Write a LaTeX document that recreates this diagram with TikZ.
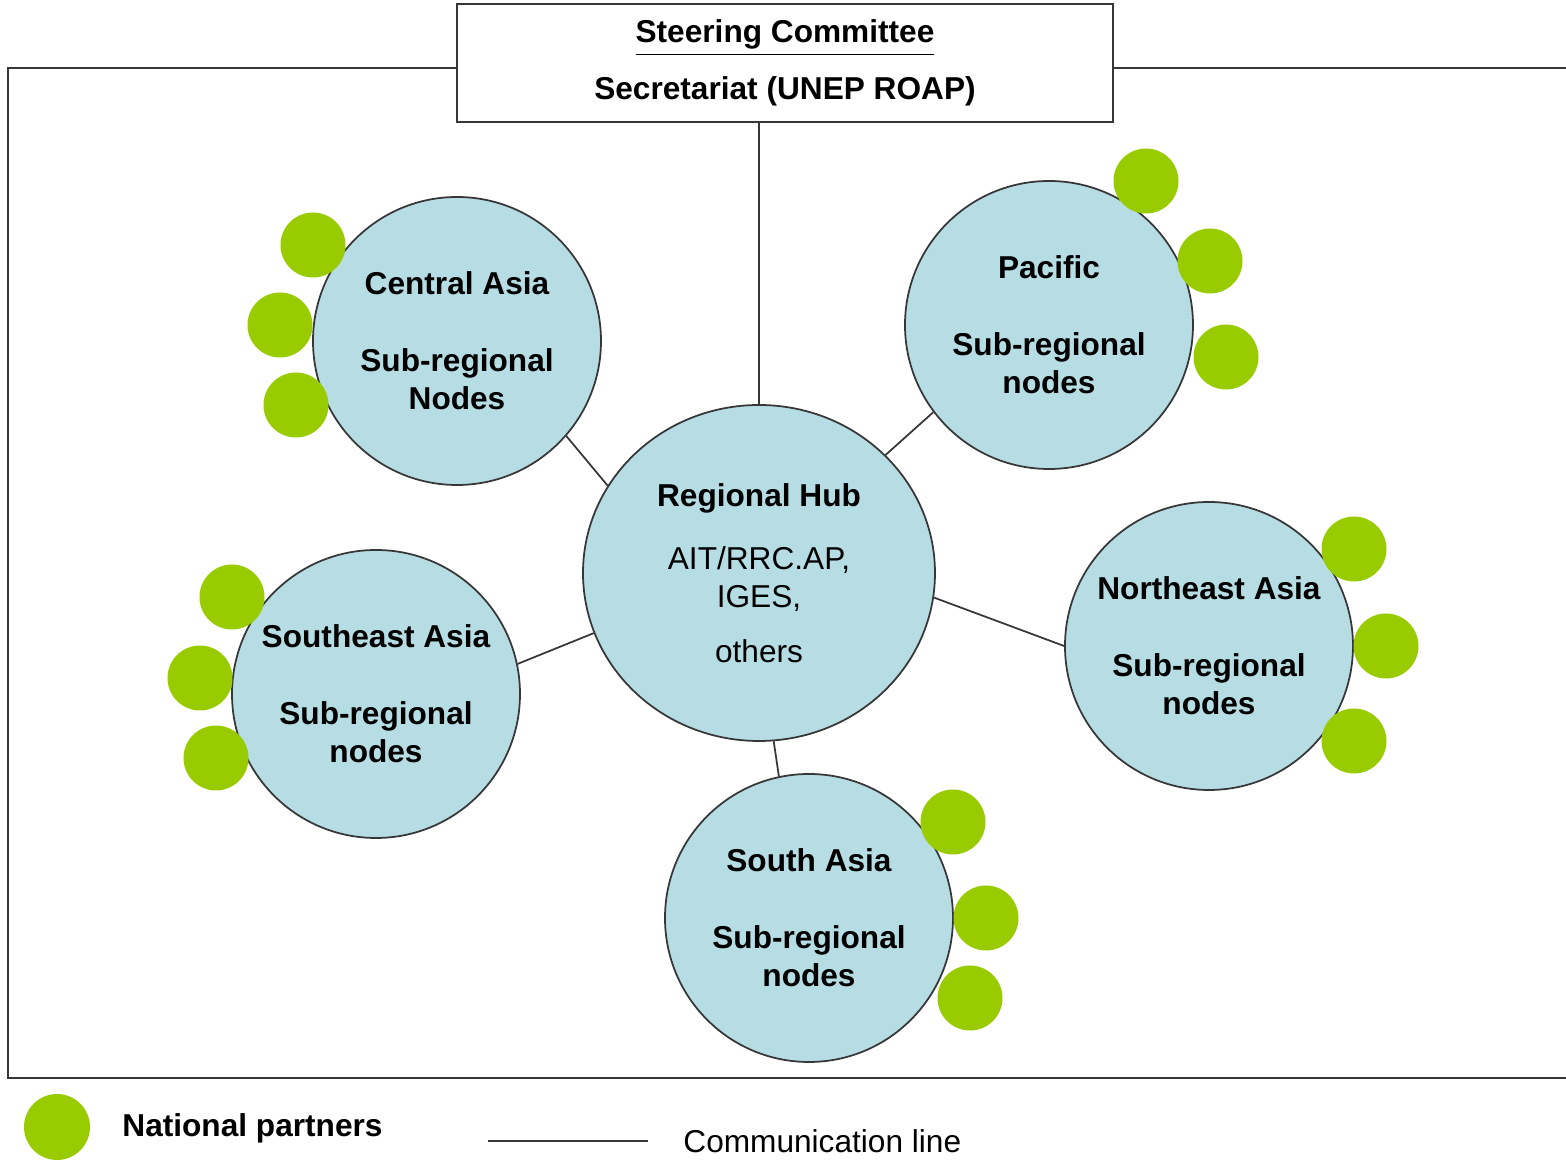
\documentclass[tikz,border=0pt]{standalone}
\usepackage{fontspec}
\setmainfont{Liberation Sans}
\usepackage{tikz}
\usetikzlibrary{positioning, shapes.geometric}

\definecolor{nodeblue}{RGB}{183,221,228}
\definecolor{partnergreen}{RGB}{153,204,0}
\definecolor{linegray}{RGB}{55,55,55}

\tikzset{
  subregion/.style={circle, draw=linegray, line width=0.5pt, fill=nodeblue, minimum size=2.88cm, inner sep=0pt, align=center, font=\bfseries\fontsize{9}{10.8}\selectfont},
  partner/.style={circle, fill=partnergreen, minimum size=0.65cm, inner sep=0pt},
  commline/.style={draw=linegray, line width=0.5pt},
}

\begin{document}
\begin{tikzpicture}
            \useasboundingbox (0,0) rectangle (15.66,11.6);
            \draw[linegray, line width=0.8pt] (15.66,10.92) -- (0.08,10.92) -- (0.08,0.82) -- (15.66,0.82);

            % steering committee
            \node[draw=linegray, line width=0.6pt, fill=white, minimum width=6.56cm, minimum height=1.18cm, align=center, font=\bfseries\fontsize{9}{10.8}\selectfont] (sc) at (7.85,10.97) {\underline{Steering Committee}\\[5.4pt]Secretariat (UNEP ROAP)};

            % hub and sub-regions
            \node[ellipse, draw=linegray, line width=0.5pt, fill=nodeblue, minimum width=3.52cm, minimum height=3.36cm, inner sep=0pt, align=center, font=\fontsize{9}{10.8}\selectfont] (hub) at (7.59,5.87) {\textbf{Regional Hub}\\[7.1pt]AIT/RRC.AP,\\IGES,\\[4.8pt]others};
            \node[subregion] (ca) at (4.57,8.19) {Central Asia\\[11.1pt]Sub-regional\\Nodes};
            \node[subregion] (pac) at (10.49,8.35) {Pacific\\[11.1pt]Sub-regional\\nodes};
            \node[subregion] (ne) at (12.09,5.14) {Northeast Asia\\[11.1pt]Sub-regional\\nodes};
            \node[subregion] (sa) at (8.09,2.42) {South Asia\\[11.1pt]Sub-regional\\nodes};
            \node[subregion] (se) at (3.76,4.66) {Southeast Asia\\[11.1pt]Sub-regional\\nodes};

            % national partners
            \foreach \x/\y [count=\i] in {3.13/9.15, 2.80/8.35, 2.96/7.55}
                \node[partner] (ca-p\i) at (\x,\y) {};
            \foreach \x/\y [count=\i] in {11.46/9.79, 12.10/8.99, 12.26/8.03}
                \node[partner] (pac-p\i) at (\x,\y) {};
            \foreach \x/\y [count=\i] in {13.54/6.11, 13.86/5.14, 13.54/4.19}
                \node[partner] (ne-p\i) at (\x,\y) {};
            \foreach \x/\y [count=\i] in {9.53/3.38, 9.86/2.42, 9.70/1.62}
                \node[partner] (sa-p\i) at (\x,\y) {};
            \foreach \x/\y [count=\i] in {2.32/5.63, 2.00/4.82, 2.16/4.02}
                \node[partner] (se-p\i) at (\x,\y) {};

            % communication lines
            \draw[commline] (hub.north) -- (hub.north |- sc.south);
            \draw[commline] (hub.150) -- (ca.-41);
            \draw[commline] (hub.43) -- (pac.217);
            \draw[commline] (hub.-8) -- (ne.180);
            \draw[commline] (hub.200) -- (se.12);
            \draw[commline] (hub.-85) -- (sa.102);

            % legend
            \node[partner, minimum size=0.66cm] (legdot) at (0.57,0.33) {};
            \node[anchor=west, font=\bfseries\fontsize{9}{10.8}\selectfont] (legdottext) at (1.10,0.32) {National partners};
            \coordinate (linea) at (4.88,0.19);
            \coordinate (lineb) at (6.48,0.19);
            \draw[commline] (linea) -- (lineb);
            \node[right=0.23cm of lineb, font=\fontsize{9}{10.8}\selectfont] (leglinetext) {Communication line};
\end{tikzpicture}
\end{document}
